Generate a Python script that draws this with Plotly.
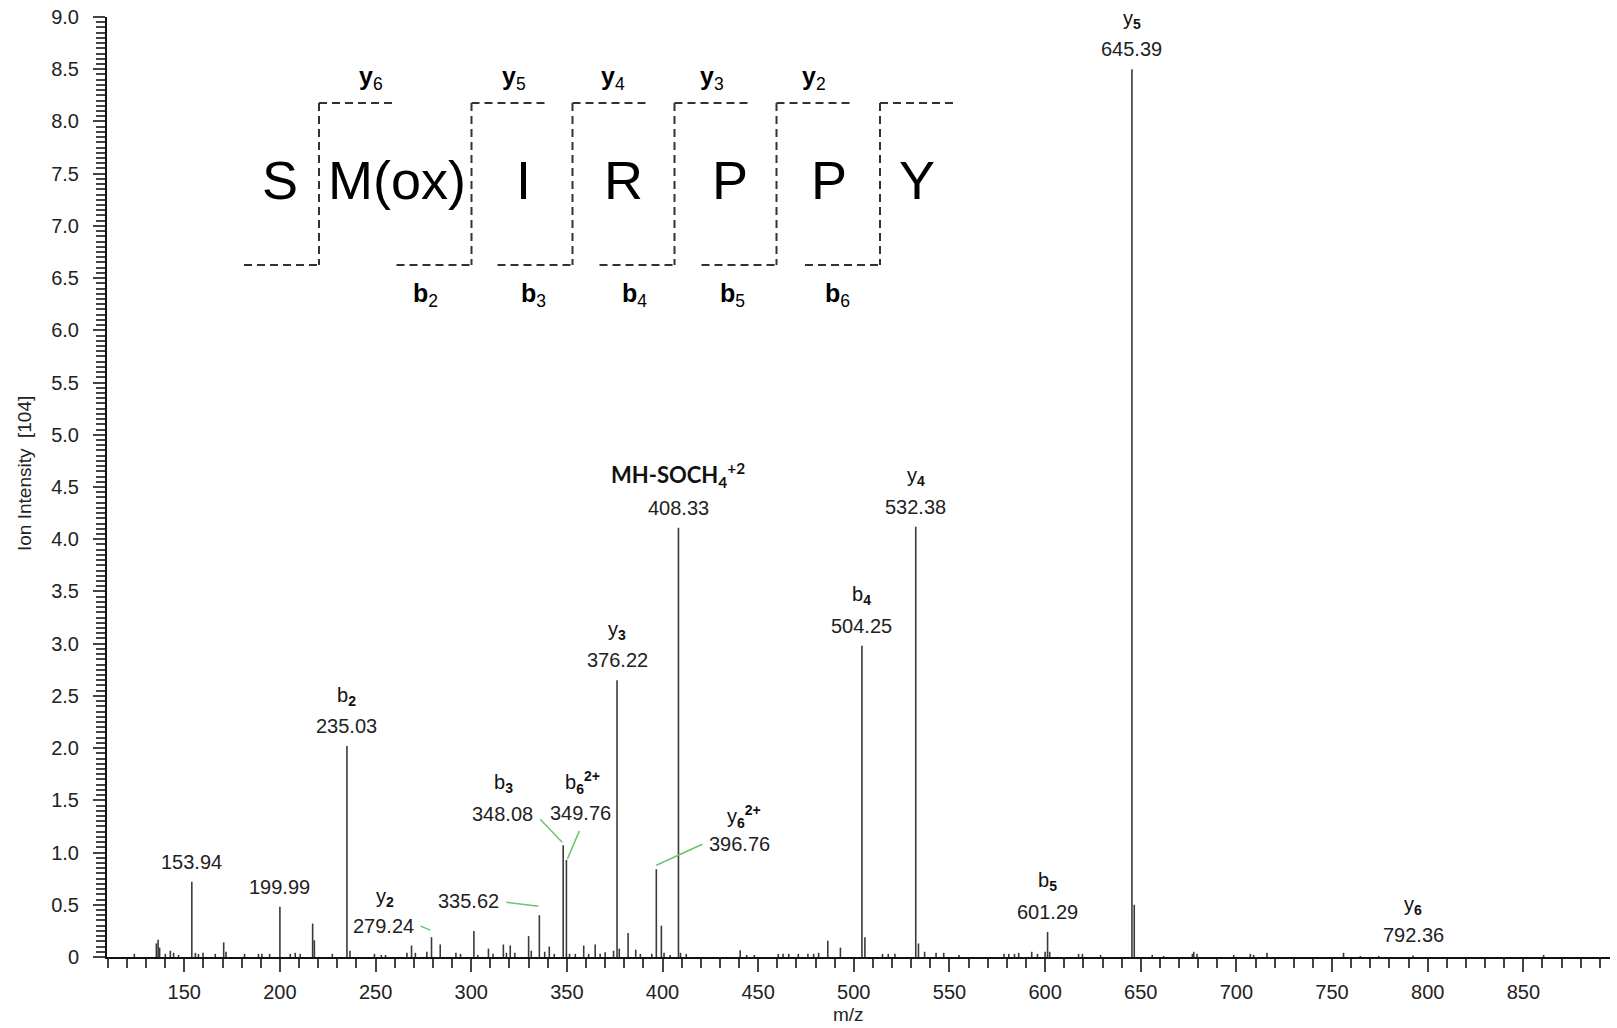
import plotly.graph_objects as go

# ---------------- data ----------------
peak_mz = [123.9, 135.4, 136.3, 137.1, 140.1, 142.7, 144.4, 147.0, 153.94, 155.8,
           157.4, 159.8, 166.2, 170.6, 171.8, 181.5, 188.8, 190.6, 194.6, 199.99,
           205.4, 208.0, 210.6, 217.1, 218.0, 227.4, 235.03, 236.6, 249.4, 253.0,
           255.2, 266.4, 268.8, 270.8, 276.8, 279.24, 283.8, 292.0, 294.4, 301.4,
           303.4, 309.0, 311.4, 316.8, 318.4, 320.4, 322.8, 330.0, 331.4, 335.62,
           338.4, 340.8, 343.4, 348.08, 349.76, 351.4, 354.4, 358.8, 361.4, 364.8,
           367.4, 370.0, 374.4, 376.22, 377.4, 382.0, 386.0, 388.4, 394.4, 396.76,
           399.4, 400.8, 404.0, 408.33, 409.4, 412.4, 440.6, 444.0, 448.0, 460.5,
           463.0, 466.0, 471.0, 476.0, 479.0, 481.6, 486.4, 493.0, 504.25, 505.8,
           515.0, 518.0, 521.5, 532.38, 533.8, 537.0, 543.0, 547.0, 555.0, 578.5,
           581.0, 584.0, 586.2, 593.0, 596.0, 600.0, 601.29, 602.4, 617.5, 619.5,
           629.0, 645.39, 646.6, 656.0, 662.0, 677.0, 677.7, 679.4, 698.6, 707.3,
           709.0, 716.0, 756.0, 764.8, 774.4, 792.36, 860.6]
peak_int = [0.03, 0.13, 0.165, 0.09, 0.03, 0.06, 0.04, 0.02, 0.72, 0.04,
            0.03, 0.04, 0.03, 0.14, 0.05, 0.03, 0.03, 0.03, 0.03, 0.48,
            0.03, 0.04, 0.03, 0.32, 0.16, 0.03, 2.02, 0.06, 0.03, 0.02,
            0.02, 0.04, 0.11, 0.04, 0.05, 0.19, 0.12, 0.04, 0.03, 0.25,
            0.02, 0.08, 0.03, 0.12, 0.04, 0.11, 0.04, 0.20, 0.06, 0.40,
            0.05, 0.10, 0.03, 1.07, 0.93, 0.03, 0.03, 0.11, 0.03, 0.12,
            0.03, 0.045, 0.06, 2.65, 0.08, 0.23, 0.07, 0.03, 0.03, 0.84,
            0.30, 0.04, 0.02, 4.11, 0.04, 0.03, 0.065, 0.02, 0.02, 0.03,
            0.03, 0.03, 0.03, 0.03, 0.03, 0.04, 0.155, 0.09, 2.98, 0.19,
            0.03, 0.03, 0.03, 4.12, 0.13, 0.05, 0.04, 0.04, 0.02, 0.03,
            0.03, 0.03, 0.04, 0.05, 0.03, 0.05, 0.24, 0.05, 0.03, 0.03,
            0.02, 8.50, 0.50, 0.02, 0.01, 0.03, 0.05, 0.03, 0.02, 0.03,
            0.02, 0.04, 0.04, 0.01, 0.01, 0.015, 0.02]

# annotated peaks
label_mz = [153.94, 199.99, 235.03, 279.24, 335.62, 348.08, 349.76, 376.22,
            396.76, 408.33, 504.25, 532.38, 601.29, 645.39, 792.36]
label_int = [0.72, 0.48, 2.02, 0.19, 0.40, 1.07, 0.93, 2.65,
             0.84, 4.11, 2.98, 4.12, 0.24, 8.50, 0.015]
label_ion = ["", "", "b<sub><b>2</b></sub>", "y<sub><b>2</b></sub>", "",
             "b<sub><b>3</b></sub>", "b<sub><b>6</b></sub><sup><b>2+</b></sup>",
             "y<sub><b>3</b></sub>", "y<sub><b>6</b></sub><sup><b>2+</b></sup>",
             "MH-SOCH<sub>4</sub><sup>+2</sup>", "b<sub><b>4</b></sub>",
             "y<sub><b>4</b></sub>", "b<sub><b>5</b></sub>", "y<sub><b>5</b></sub>",
             "y<sub><b>6</b></sub>"]

# peptide sequence diagram
residues = ["S", "M(ox)", "I", "R", "P", "P", "Y"]
y_ions = ["y<sub>6</sub>", "y<sub>5</sub>", "y<sub>4</sub>", "y<sub>3</sub>", "y<sub>2</sub>"]
b_ions = ["b<sub>2</sub>", "b<sub>3</sub>", "b<sub>4</sub>", "b<sub>5</sub>", "b<sub>6</sub>"]

x_ticks = list(range(150, 900, 50))
y_tickvals = [i * 0.5 for i in range(19)]
y_ticktext = ["0"] + ["%.1f" % v for v in y_tickvals[1:]]

# ---------------- layout geometry ----------------
FW, FH = 1617, 1028
L, R, T, B = 107, 7, 17, 71
PW, PH = FW - L - R, FH - T - B
FONT = "Liberation Sans, Arial, sans-serif"


def pxx(px):
    return (px - L) / PW


def pxy(py):
    return 1 - (py - T) / PH


# ---------------- peaks ----------------
xs, ys = [], []
for m, v in zip(peak_mz, peak_int):
    xs += [m, m, None]
    ys += [0, v, None]

fig = go.Figure()
fig.add_trace(go.Scatter(x=xs, y=ys, mode="lines",
                         line=dict(color="#3a3a3a", width=1.6),
                         hoverinfo="skip", showlegend=False))

annotations = []
shapes = []

# label offsets (pixels, relative to peak top): value (dx, dy), name (dx, dy), connector
special = {
    279.24: ((-48, 11), (-47, 40), ((-11, 11), (-1, 7))),
    335.62: ((-71, 14), None, ((-33, 13), (-1, 9))),
    348.08: ((-61, 31), (-60, 62), ((-23, 26), (-1, 3))),
    349.76: ((14, 47), (16, 77), ((13, 29), (1, 1))),
    396.76: ((83, 25), (88, 53), ((46, 25), (0, 4))),
}

for m, v, ion in zip(label_mz, label_int, label_ion):
    if m in special:
        (vdx, vdy), name_off, conn = special[m]
    else:
        vdx, vdy = 0, 20
        name_off = (0, 50)
        conn = None
    annotations.append(dict(x=m, y=v, xref="x", yref="y", text="%.2f" % m,
                            xshift=vdx, yshift=vdy, showarrow=False,
                            xanchor="center", yanchor="middle",
                            font=dict(family=FONT, size=20, color="#222")))
    if ion:
        ndx, ndy = name_off
        if ion.startswith("MH"):
            f = dict(family="Lato, Open Sans, sans-serif", size=22, color="#111")
            txt = "<b>" + ion + "</b>"
            ndy = 53
        else:
            f = dict(family=FONT, size=20, color="#111")
            txt = ion
        annotations.append(dict(x=m, y=v, xref="x", yref="y", text=txt,
                                xshift=ndx, yshift=ndy, showarrow=False,
                                xanchor="center", yanchor="middle", font=f))
    if conn:
        (x0, y0), (x1, y1) = conn
        shapes.append(dict(type="line", xref="x", yref="y",
                           xsizemode="pixel", ysizemode="pixel",
                           xanchor=m, yanchor=v, x0=x0, y0=y0, x1=x1, y1=y1,
                           line=dict(color="#6cc46c", width=1.5)))

# ---------------- peptide diagram ----------------
res_x = [280, 397, 523, 623, 730, 829, 917]
res_y = 180
for r, cx in zip(residues, res_x):
    annotations.append(dict(x=pxx(cx), y=pxy(res_y), xref="paper", yref="paper",
                            text=r, showarrow=False, xanchor="center", yanchor="middle",
                            font=dict(family=FONT, size=54, color="#000")))

cut_x = [319, 471.5, 572.5, 674.5, 776.5, 880]
top_y, bot_y = 103, 265
dash = dict(color="#333", width=2, dash="8px,5px")
for i, cx in enumerate(cut_x):
    shapes.append(dict(type="line", xref="paper", yref="paper",
                       x0=pxx(cx), x1=pxx(cx), y0=pxy(top_y), y1=pxy(bot_y), line=dash))
    shapes.append(dict(type="line", xref="paper", yref="paper",
                       x0=pxx(cx), x1=pxx(cx + 78), y0=pxy(top_y), y1=pxy(top_y), line=dash))
    shapes.append(dict(type="line", xref="paper", yref="paper",
                       x0=pxx(cx - 75), x1=pxx(cx), y0=pxy(bot_y), y1=pxy(bot_y), line=dash))

y_lab_x = [371, 514, 613, 712, 814]
b_lab_x = [425, 533, 634, 732, 837]
for t, cx in zip(y_ions, y_lab_x):
    tt = "<b>" + t.split("<sub>")[0] + "</b><sub>" + t.split("<sub>")[1]
    annotations.append(dict(x=pxx(cx), y=pxy(78), xref="paper", yref="paper",
                            text=tt, showarrow=False, xanchor="center", yanchor="middle",
                            font=dict(family=FONT, size=25, color="#000")))
for t, cx in zip(b_ions, b_lab_x):
    tt = "<b>" + t.split("<sub>")[0] + "</b><sub>" + t.split("<sub>")[1]
    annotations.append(dict(x=pxx(cx), y=pxy(295), xref="paper", yref="paper",
                            text=tt, showarrow=False, xanchor="center", yanchor="middle",
                            font=dict(family=FONT, size=25, color="#000")))

# axis titles
annotations.append(dict(x=pxx(24), y=pxy(474), xref="paper", yref="paper",
                        text="Ion Intensity  [104]", textangle=-90, showarrow=False,
                        xanchor="center", yanchor="middle",
                        font=dict(family=FONT, size=19, color="#222")))
annotations.append(dict(x=pxx(848), y=pxy(1015), xref="paper", yref="paper",
                        text="m/z", showarrow=False, xanchor="center", yanchor="middle",
                        font=dict(family=FONT, size=19, color="#222")))

fig.update_layout(
    width=FW, height=FH,
    margin=dict(l=L, r=R, t=T, b=B, autoexpand=False),
    paper_bgcolor="white", plot_bgcolor="white",
    showlegend=False, hovermode=False,
    annotations=annotations, shapes=shapes,
    xaxis=dict(range=[109.6, 895.3], showgrid=False, zeroline=False,
               showline=True, linecolor="#111", linewidth=2,
               tickmode="array", tickvals=x_ticks,
               ticks="outside", ticklen=13, tickwidth=2, tickcolor="#444",
               minor=dict(tickmode="linear", tick0=0, dtick=10, ticks="outside",
                          ticklen=9, tickwidth=2, tickcolor="#444"),
               tickfont=dict(family=FONT, size=20, color="#222"),
               ticklabelstandoff=3),
    yaxis=dict(range=[0, 9], showgrid=False, zeroline=False,
               showline=True, linecolor="#111", linewidth=2,
               tickmode="array", tickvals=y_tickvals, ticktext=y_ticktext,
               ticks="outside", ticklen=12, tickwidth=2, tickcolor="#444",
               minor=dict(tickmode="linear", tick0=0, dtick=0.05, ticks="outside",
                          ticklen=9, tickwidth=2, tickcolor="#444"),
               tickfont=dict(family=FONT, size=20, color="#222"),
               ticklabelstandoff=10),
)

fig.write_html("out.html")
